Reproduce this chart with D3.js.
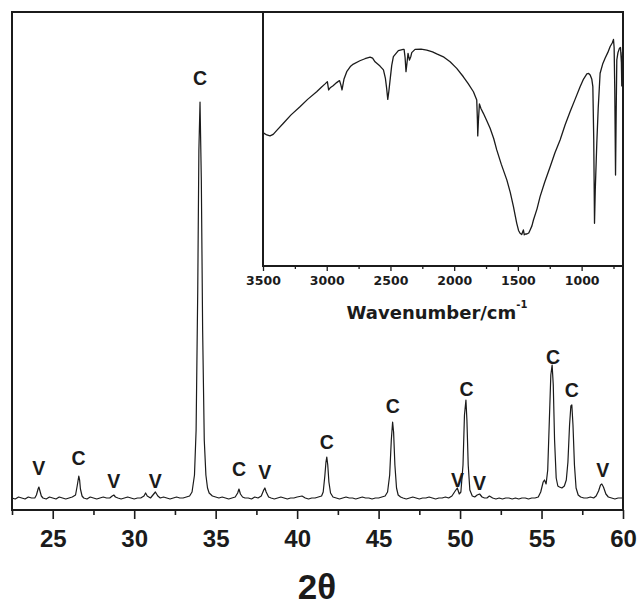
<!DOCTYPE html>
<html>
<head>
<meta charset="utf-8">
<script src="https://cdn.jsdelivr.net/npm/d3@7"></script>
<style>
  html, body { margin: 0; padding: 0; background: #fff; }
  svg { display: block; }
</style>
</head>
<body>
<svg id="chart" width="638" height="606"></svg>
<script>
// ---------- XRD pattern (2θ, intensity a.u.) ----------
const xrdTheta = [22.5,22.7,22.9,23.1,23.3,23.5,23.7,23.9,24.0,24.1,24.15,24.2,24.3,24.4,24.6,24.8,25.0,25.2,25.4,25.6,25.8,26.0,26.2,26.4,26.5,26.6,26.65,26.7,26.8,26.9,27.1,27.3,27.5,27.7,27.9,28.1,28.3,28.5,28.65,28.75,28.85,29.0,29.2,29.4,29.6,29.8,30.0,30.2,30.4,30.6,30.7,30.8,30.9,31.0,31.15,31.3,31.45,31.6,31.8,32.0,32.2,32.4,32.6,32.8,33.0,33.2,33.4,33.55,33.7,33.8,33.9,33.97,34.04,34.12,34.2,34.3,34.4,34.5,34.6,34.8,35.0,35.2,35.4,35.6,35.8,36.0,36.2,36.35,36.43,36.52,36.65,36.8,37.0,37.2,37.4,37.6,37.8,37.95,38.02,38.1,38.25,38.4,38.6,38.8,39.0,39.2,39.4,39.6,39.8,40.0,40.3,40.5,40.7,40.9,41.1,41.3,41.5,41.6,41.7,41.77,41.82,41.88,41.95,42.05,42.2,42.4,42.6,42.8,43.0,43.2,43.4,43.6,43.8,44.0,44.2,44.4,44.6,44.8,45.0,45.2,45.4,45.55,45.68,45.78,45.86,45.92,46.0,46.1,46.2,46.35,46.5,46.7,46.9,47.1,47.3,47.5,47.7,47.9,48.1,48.3,48.5,48.7,48.9,49.1,49.3,49.5,49.7,49.83,49.95,50.05,50.18,50.27,50.36,50.42,50.5,50.6,50.75,50.9,51.05,51.2,51.35,51.5,51.65,51.8,51.9,52.0,52.2,52.4,52.6,52.8,53.0,53.2,53.4,53.6,53.8,54.0,54.2,54.4,54.6,54.8,54.95,55.1,55.18,55.28,55.38,55.48,55.57,55.65,55.72,55.8,55.9,56.0,56.1,56.25,56.4,56.52,56.62,56.72,56.8,56.86,56.93,57.02,57.12,57.25,57.4,57.6,57.8,58.0,58.2,58.35,58.5,58.62,58.7,58.8,58.95,59.1,59.3,59.5,59.7,59.9,60.0];
const xrdIntensity = [12,11,13,12,11,13,12,12,15,21,23,20,14,12,11,13,12,11,13,12,11,12,13,15,24,34,30,21,14,12,11,13,12,11,12,13,12,12,14,15,13,12,11,12,13,12,11,12,12,14,17,14,13,12,15,18,14,12,13,12,11,12,13,12,12,13,14,18,35,80,220,360,408,330,180,70,35,22,17,14,13,12,13,12,11,12,13,17,21,16,13,12,12,11,13,12,14,20,22,18,13,12,11,12,13,12,11,12,12,13,14,12,11,12,12,13,14,18,34,48,53,45,28,17,13,12,11,12,13,12,12,11,12,13,12,12,11,12,12,13,14,18,35,70,88,78,45,22,15,13,12,11,12,13,12,11,12,12,13,12,11,12,12,13,12,14,19,22,16,18,45,95,110,90,45,20,14,13,15,16,13,12,12,14,13,12,11,12,11,12,12,11,12,11,12,12,11,12,12,13,18,28,30,26,40,90,135,145,125,70,32,24,23,22,24,30,48,85,104,105,85,45,22,15,13,12,12,13,12,14,19,25,26,23,16,13,12,11,12,12,12];

// Phase labels (C = calcite, V = vaterite)
const labelText  = ["V","C","V","V","C","C","V","C","C","V","C","V","C","C","V"];
const labelTheta = [24.14,26.59,28.74,31.30,34.04,36.43,38.02,41.82,45.87,49.84,50.40,51.19,55.70,56.86,58.76];
const labelLevel = [42,52,29,29,432,41,38,68,104,30,121,27,153,120,40];

const xrdMajorTicks = [25,30,35,40,45,50,55,60];
const xrdMinorTicks = [22.5,27.5,32.5,37.5,42.5,47.5,52.5,57.5];
const xrdTitle = "2θ";

// ---------- FTIR inset (wavenumber, transmittance %) ----------
const irWavenumber = [3500,3470,3445,3420,3390,3340,3280,3210,3150,3079,3040,3013,2995,2985,2970,2950,2922,2900,2890,2880,2865,2843,2815,2791,2740,2700,2660,2640,2621,2582,2555,2540,2530,2521,2512,2503,2490,2477,2438,2400,2393,2385,2378,2370,2362,2351,2340,2333,2307,2260,2215,2170,2137,2080,2032,1980,1928,1890,1849,1823,1818,1815,1810,1802,1790,1771,1745,1718,1690,1666,1630,1587,1560,1535,1520,1509,1495,1483,1470,1457,1450,1440,1430,1415,1404,1390,1378,1350,1326,1290,1247,1210,1169,1130,1090,1050,1012,985,959,945,933,920,912,905,899,893,881,870,855,835,816,795,776,760,750,745,740,734,729,724,715,703,695,688,685,680,675,670];
const irTransmittance = [52.5,51.6,51.2,51.8,53.5,56.2,59.5,62.7,65.6,68.6,70.5,71.7,72.6,69.3,70.3,71.0,72.2,73.0,71.5,69.3,73.5,76.5,78.5,79.5,80.8,81.6,82.2,81.8,80.4,78.7,77.2,74.0,70.0,65.6,69.0,73.2,79.0,82.4,84.8,85.3,85.3,82.0,76.5,80.0,83.7,81.1,82.5,84.0,85.3,85.4,85.0,84.3,83.5,82.2,80.4,77.8,74.5,71.8,68.6,65.4,58.0,51.2,57.0,63.8,62.0,60.1,57.3,54.2,50.2,45.7,40.0,33.9,29.0,23.4,19.5,16.8,14.0,12.9,12.4,14.2,12.3,12.6,12.6,13.0,14.2,15.8,18.1,22.5,27.3,33.0,39.1,44.5,49.6,55.5,60.8,65.8,70.6,73.6,75.6,75.8,75.2,73.5,70.6,50.0,16.8,30.0,48.3,62.0,75.9,79.5,81.8,84.0,86.4,87.8,89.2,86.0,70.0,35.8,60.0,81.1,84.0,85.7,86.0,80.0,70.9,84.0,85.5,85.0];

const irMajorTicks = [3500,3000,2500,2000,1500,1000];
const irMinorTicks = [3250,2750,2250,1750,1250,750];
const irTitle = "Wavenumber/cm";
const irTitleSup = "-1";

// ---------- drawing ----------
const svg = d3.select("#chart");
const ink = "#1b1b1b";

// main plot geometry
const M = { left: 12, right: 623, top: 12, bottom: 510 };
const x = d3.scaleLinear().domain([22.5, 60]).range([M.left, M.right]);
const y = d3.scaleLinear().domain([0, 498]).range([M.bottom, M.top]);

svg.append("defs").append("clipPath").attr("id", "mainClip")
  .append("rect").attr("x", M.left).attr("y", M.top)
  .attr("width", M.right - M.left).attr("height", M.bottom - M.top);

const xrd = xrdTheta.map((t, i) => [t, xrdIntensity[i]]);
svg.append("path")
  .datum(xrd)
  .attr("clip-path", "url(#mainClip)")
  .attr("fill", "none")
  .attr("stroke", ink)
  .attr("stroke-width", 1.2)
  .attr("stroke-linejoin", "round")
  .attr("d", d3.line().x(d => x(d[0])).y(d => y(d[1])));

// peak labels
svg.append("g").selectAll("text")
  .data(labelText.map((t, i) => ({ t, th: labelTheta[i], v: labelLevel[i] })))
  .join("text")
  .attr("x", d => x(d.th))
  .attr("y", d => y(d.v))
  .attr("dy", "0.36em")
  .attr("text-anchor", "middle")
  .attr("font-family", "'Liberation Sans', Arial, sans-serif")
  .attr("font-weight", "bold")
  .attr("font-size", 19.5)
  .attr("fill", ink)
  .text(d => d.t);

// main x axis: major + minor ticks
const gMajor = svg.append("g").attr("transform", `translate(0,${M.bottom})`)
  .call(d3.axisBottom(x).tickValues(xrdMajorTicks).tickSize(9).tickSizeOuter(0).tickFormat(d3.format("d")));
gMajor.select(".domain").remove();
gMajor.selectAll("line").attr("stroke", ink).attr("stroke-width", 1.6);
gMajor.selectAll("text")
  .attr("y", 37).attr("dy", null)
  .attr("font-family", "'Liberation Sans', Arial, sans-serif")
  .attr("font-weight", "bold").attr("font-size", 24).attr("fill", ink);

const gMinor = svg.append("g").attr("transform", `translate(0,${M.bottom})`)
  .call(d3.axisBottom(x).tickValues(xrdMinorTicks).tickSize(5).tickSizeOuter(0).tickFormat(""));
gMinor.select(".domain").remove();
gMinor.selectAll("line").attr("stroke", ink).attr("stroke-width", 1.6);

// main frame
svg.append("rect")
  .attr("x", M.left).attr("y", M.top)
  .attr("width", M.right - M.left).attr("height", M.bottom - M.top)
  .attr("fill", "none").attr("stroke", ink).attr("stroke-width", 2);

// main title
svg.append("text")
  .attr("x", 317).attr("y", 599)
  .attr("text-anchor", "middle")
  .attr("font-family", "'Liberation Sans', Arial, sans-serif")
  .attr("font-weight", "bold").attr("font-size", 35).attr("fill", ink)
  .text(xrdTitle);

// ---------- inset ----------
const I = { left: 263, right: 623, top: 12, bottom: 266 };
const ix = d3.scaleLinear().domain([3500, 675.4]).range([I.left, I.right]);
const iy = d3.scaleLinear().domain([0, 100]).range([I.bottom, I.top]);

svg.append("rect")
  .attr("x", I.left).attr("y", I.top)
  .attr("width", I.right - I.left).attr("height", I.bottom - I.top)
  .attr("fill", "#fff");

svg.select("defs").append("clipPath").attr("id", "insetClip")
  .append("rect").attr("x", I.left).attr("y", I.top)
  .attr("width", I.right - I.left).attr("height", I.bottom - I.top);

const ir = irWavenumber.map((w, i) => [w, irTransmittance[i]]);
svg.append("path")
  .datum(ir)
  .attr("clip-path", "url(#insetClip)")
  .attr("fill", "none")
  .attr("stroke", ink)
  .attr("stroke-width", 1.3)
  .attr("stroke-linejoin", "round")
  .attr("d", d3.line().x(d => ix(d[0])).y(d => iy(d[1])));

const iMajor = svg.append("g").attr("transform", `translate(0,${I.bottom})`)
  .call(d3.axisBottom(ix).tickValues(irMajorTicks).tickSize(5).tickSizeOuter(0).tickFormat(d3.format("d")));
iMajor.select(".domain").remove();
iMajor.selectAll("line").attr("stroke", ink).attr("stroke-width", 1.3);
iMajor.selectAll("text")
  .attr("y", 18.5).attr("dy", null)
  .attr("font-family", "'DejaVu Sans', sans-serif")
  .attr("font-weight", "bold").attr("font-size", 12.5).attr("fill", ink);

const iMinor = svg.append("g").attr("transform", `translate(0,${I.bottom})`)
  .call(d3.axisBottom(ix).tickValues(irMinorTicks).tickSize(3).tickSizeOuter(0).tickFormat(""));
iMinor.select(".domain").remove();
iMinor.selectAll("line").attr("stroke", ink).attr("stroke-width", 1.3);

svg.append("rect")
  .attr("x", I.left).attr("y", I.top)
  .attr("width", I.right - I.left).attr("height", I.bottom - I.top)
  .attr("fill", "none").attr("stroke", ink).attr("stroke-width", 2);

const t = svg.append("text")
  .attr("x", 437).attr("y", 318.5)
  .attr("text-anchor", "middle")
  .attr("font-family", "'DejaVu Sans', sans-serif")
  .attr("font-weight", "bold").attr("font-size", 18).attr("fill", ink);
t.append("tspan").text(irTitle);
t.append("tspan").attr("font-size", 10).attr("dy", -11).text(irTitleSup);
</script>
</body>
</html>
